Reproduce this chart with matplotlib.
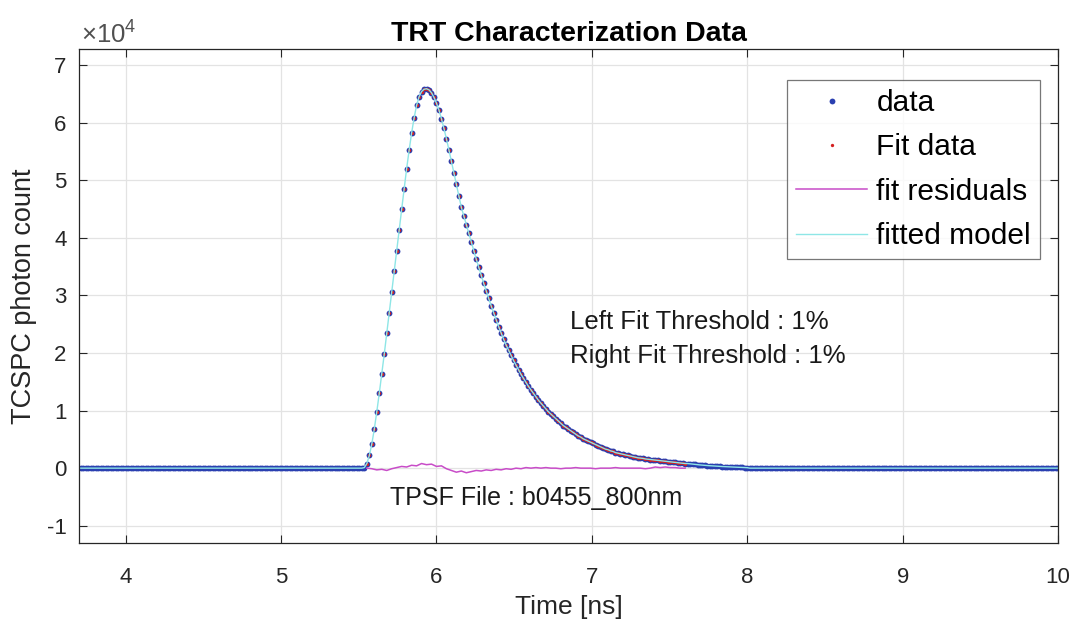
import matplotlib
matplotlib.use('Agg')
import matplotlib.pyplot as plt
from matplotlib.ticker import FuncFormatter
import numpy as np

plt.rcParams['font.family'] = ['Liberation Sans', 'DejaVu Sans']
plt.rcParams['mathtext.fontset'] = 'custom'
plt.rcParams['mathtext.rm'] = 'Liberation Sans'

# TCSPC bin width [ns] and time window
dt = 0.016
t_start = 3.696
t_end = 10.0
t_pulse = 5.52   # first bin of the read-off pulse window

# photon counts (x1e4), one value per bin from 5.52 ns on
pulse_e4 = [
    0.00, 0.01, 0.08, 0.22, 0.42, 0.68, 0.98, 1.30,
    1.64, 1.98, 2.34, 2.70, 3.06, 3.42, 3.78, 4.14,
    4.50, 4.85, 5.20, 5.52, 5.82, 6.08, 6.30, 6.45,
    6.54, 6.58, 6.59, 6.57, 6.52, 6.44, 6.34, 6.22,
    6.07, 5.90, 5.72, 5.53, 5.33, 5.13, 4.93, 4.73,
    4.53, 4.38, 4.23, 4.08, 3.93, 3.78, 3.63, 3.49,
    3.35, 3.21, 3.08, 2.95, 2.82, 2.70, 2.58, 2.46,
    2.35, 2.24, 2.14, 2.05, 1.96, 1.87, 1.79, 1.71,
    1.63, 1.56, 1.49, 1.42, 1.36, 1.30, 1.24, 1.18,
    1.13, 1.08, 1.03, 0.98, 0.94, 0.90, 0.86, 0.82,
    0.78, 0.74, 0.71, 0.68, 0.65, 0.62, 0.59, 0.56,
    0.54, 0.51, 0.49, 0.47, 0.45, 0.43, 0.41, 0.39,
    0.37, 0.35, 0.33, 0.32, 0.30, 0.29, 0.27, 0.26,
    0.25, 0.24, 0.23, 0.22, 0.21, 0.20, 0.19, 0.18,
    0.175, 0.17, 0.16, 0.155, 0.15, 0.145, 0.14, 0.135,
    0.13, 0.125, 0.12, 0.115, 0.11, 0.105, 0.10, 0.095,
    0.09, 0.085, 0.08, 0.08, 0.075, 0.07, 0.065, 0.06,
    0.056, 0.052, 0.048, 0.045, 0.042, 0.039, 0.036, 0.033,
    0.03, 0.028, 0.026, 0.024, 0.022, 0.02, 0.018, 0.016,
    0.014, 0.012, 0.01, 0.008,
]

# fit window (1% thresholds) given as bin indices into pulse_e4
fit_first = 2
fit_last = 130

# fit residuals (x1e4), every second bin of the fit window
resid_e4 = [
    0.00, -0.01, -0.03, -0.02, -0.04, -0.01, 0.01, 0.03,
    0.02, 0.05, 0.04, 0.08, 0.06, 0.07, 0.03, 0.04,
    -0.01, -0.04, -0.07, -0.05, -0.08, -0.06, -0.04, -0.05,
    -0.03, -0.04, -0.02, -0.03, -0.01, -0.02, 0.00, -0.01,
    0.01, 0.00, 0.01, 0.00, 0.01, 0.00, 0.00, -0.01,
    0.00, 0.00, 0.01, 0.00, 0.00, 0.00, -0.01, 0.00,
    0.00, 0.00, 0.01, 0.00, 0.00, 0.00, 0.00, 0.00,
    -0.01, 0.00, 0.02, 0.01, 0.02, 0.01, 0.01, 0.00,
    0.00,
]

# build the full time axis: flat baseline before and after the pulse
pulse = np.array(pulse_e4) * 1e4
t_pre = np.arange(t_start, t_pulse - dt / 2, dt)
t_pul = t_pulse + dt * np.arange(len(pulse))
t_post = np.arange(t_pul[-1] + dt, t_end + dt / 2, dt)
time = np.concatenate([t_pre, t_pul, t_post])
counts = np.concatenate([np.zeros(len(t_pre)), pulse, np.zeros(len(t_post))])

t_fit = t_pul[fit_first:fit_last + 1]
c_fit = pulse[fit_first:fit_last + 1]
t_res = t_fit[::2][:len(resid_e4)]
resid = np.array(resid_e4) * 1e4

fig = plt.figure(figsize=(10.77, 6.24), dpi=100)
ax = fig.add_axes([0.0734, 0.1298, 0.9090, 0.7917])

ax.plot(time, counts, 'o', color='#2a3fb0', ms=4.2, mew=0, label='data')
ax.plot(t_fit, c_fit, 'o', color='#d42020', ms=2.4, mew=0, label='Fit data')
ax.plot(t_res, resid, '-', color='#c84cc8', lw=1.1, label='fit residuals')
ax.plot(time, counts, '-', color='#8ee6e6', lw=1.0, label='fitted model')

ax.set_xlim(3.7, 10)
ax.set_ylim(-1.3e4, 7.28e4)
ax.set_xticks(np.arange(4, 11, 1))
ax.set_yticks(np.arange(-1, 8, 1) * 1e4)
ax.yaxis.set_major_formatter(FuncFormatter(lambda v, p: '%d' % round(v / 1e4)))

ax.grid(True, color='#e3e3e3', lw=0.9)
ax.set_axisbelow(True)
ax.tick_params(direction='in', top=True, right=True, length=6, width=0.8,
               labelsize=16, colors='#262626')
ax.tick_params(axis='x', pad=17)
ax.tick_params(axis='y', pad=9)
for s in ax.spines.values():
    s.set_color('#262626')
    s.set_linewidth(0.9)

ax.set_xlabel('Time [ns]', fontsize=19, color='#262626', labelpad=5)
ax.set_ylabel('TCSPC photon count', fontsize=19.5, color='#262626', labelpad=7)
ax.set_title('TRT Characterization Data', fontsize=20.5, fontweight='bold', pad=6)
ax.text(0.002, 1.0, r'$\times\mathregular{10^{4}}$', transform=ax.transAxes,
        fontsize=18.5, color='#505050', ha='left', va='bottom')

ax.text(6.86, 2.54e4, 'Left Fit Threshold : 1%', fontsize=18.5, color='#1a1a1a', va='center')
ax.text(6.86, 1.95e4, 'Right Fit Threshold : 1%', fontsize=18.5, color='#1a1a1a', va='center')
ax.text(5.70, -0.52e4, 'TPSF File : b0455_800nm', fontsize=18, color='#1a1a1a', va='center')

leg = ax.legend(loc='upper right', bbox_to_anchor=(0.9816, 0.937), fontsize=21.5,
                frameon=True, fancybox=False, edgecolor='#555555',
                handlelength=2.4, handletextpad=0.3, borderpad=0.3,
                labelspacing=0.55, borderaxespad=0)
leg.get_frame().set_linewidth(0.9)

fig.savefig('out.png', dpi=100)
